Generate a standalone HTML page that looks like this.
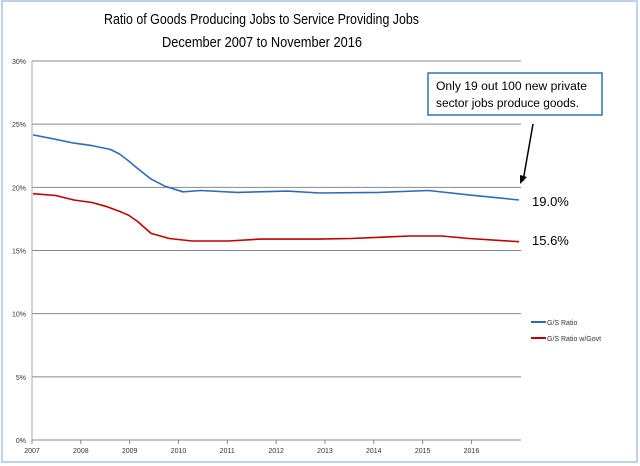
<!DOCTYPE html>
<html><head><meta charset="utf-8"><style>
body{margin:0;background:#fff;}
svg{display:block;font-family:"Liberation Sans",sans-serif;}
</style></head><body>
<svg id="c" width="640" height="466">
<rect x="2" y="1" width="635" height="461" fill="#fff" stroke="#a9c4e6" stroke-width="1.5"/>
<text x="104" y="24" font-size="15" textLength="315" lengthAdjust="spacingAndGlyphs" fill="#000">Ratio of Goods Producing Jobs to Service Providing Jobs</text>
<text x="162" y="47" font-size="15" textLength="200" lengthAdjust="spacingAndGlyphs" fill="#000">December 2007 to November 2016</text>
<g id="grid"></g><g id="axes"></g><g id="series"></g>
<rect x="428" y="73" width="174" height="42" fill="#fff" stroke="#2e75b6" stroke-width="1.5"/>
<text x="436" y="90" font-size="11.5" textLength="151" lengthAdjust="spacingAndGlyphs" fill="#000">Only 19 out 100  new private</text>
<text x="436" y="107" font-size="11.5" textLength="143" lengthAdjust="spacingAndGlyphs" fill="#000">sector jobs produce goods.</text>
<line x1="533" y1="124" x2="523" y2="181" stroke="#000" stroke-width="1.5"/>
<polygon points="520,184 520,175 527,177" fill="#000"/>
<text x="532" y="206" font-size="13" fill="#000">19.0%</text>
<text x="532" y="245" font-size="13" fill="#000">15.6%</text>
<line x1="531" y1="322" x2="546" y2="322" stroke="#2e6db5" stroke-width="2"/>
<text x="547" y="325" font-size="7" fill="#333">G/S Ratio</text>
<line x1="531" y1="338" x2="546" y2="338" stroke="#c00000" stroke-width="2"/>
<text x="547" y="341" font-size="7" fill="#333">G/S Ratio  w/Govt</text>
</svg>
<script>
const yTicks=[0,5,10,15,20,25,30];
const yearLabels=["2007","2008","2009","2010","2011","2012","2013","2014","2015","2016"];
const blueM=[0,5,9,13,17,19,21,23,26,29,33,37,45,56,63,76,87,96,107];
const blueY=[24.15,23.8,23.5,23.3,23.0,22.65,22.1,21.5,20.65,20.1,19.65,19.75,19.6,19.7,19.55,19.6,19.75,19.4,19.0];
const redM=[0,5,9,13,16,19,21,23,26,30,35,43,50,63,70,83,90,96,107];
const redY=[19.5,19.35,19.0,18.8,18.5,18.1,17.8,17.3,16.35,15.95,15.75,15.75,15.9,15.9,15.95,16.15,16.15,15.95,15.7];
const NS="http://www.w3.org/2000/svg";
const x0=32,x1=521,y0=440,y1=61,px0=33,pxEnd=519,nMonths=107,labelStep=10.75;
const xs=m=>px0+m*(pxEnd-px0)/nMonths;
const ys=v=>y0-v*(y0-y1)/30;
function mk(t,a,p){const e=document.createElementNS(NS,t);for(const k in a)e.setAttribute(k,a[k]);p.appendChild(e);return e;}
const grid=document.getElementById('grid'),axes=document.getElementById('axes'),ser=document.getElementById('series');
yTicks.forEach(t=>{
  if(t>0){const g=mk('line',{x1:x0,x2:x1,y1:ys(t),y2:ys(t),stroke:'#888','stroke-width':1},grid);
  
  }
  const l=mk('text',{x:x0-6,y:ys(t)+3,'text-anchor':'end','font-size':7,fill:'#333'},axes);
  l.textContent=t+'%';
  
  
});
const ya=mk('line',{x1:x0,x2:x0,y1:y1,y2:y0,stroke:'#aaa','stroke-width':1},axes);


const xa=mk('line',{x1:x0,x2:x1,y1:y0,y2:y0,stroke:'#888','stroke-width':1},axes);


yearLabels.forEach((y,i)=>{
  const xx=x0+i*labelStep*(pxEnd-px0)/nMonths;
  const tk=mk('line',{x1:xx,x2:xx,y1:y0,y2:y0+4,stroke:'#888'},axes);
  
  
  const l=mk('text',{x:xx,y:y0+13,'text-anchor':'middle','font-size':7,fill:'#333'},axes);
  l.textContent=y;
  
  
});
function line(X,Y,c,n){
  const d=X.map((v,i)=>(i?'L':'M')+xs(v).toFixed(1)+','+ys(Y[i]).toFixed(1)).join('');
  const p=mk('path',{d:d,fill:'none',stroke:c,'stroke-width':1.6,'stroke-linejoin':'round'},ser);
  
  
}
line(blueM,blueY,'#2e6db5','line-gs-ratio');
line(redM,redY,'#c00000','line-gs-ratio-govt');
</script>
</body></html>
